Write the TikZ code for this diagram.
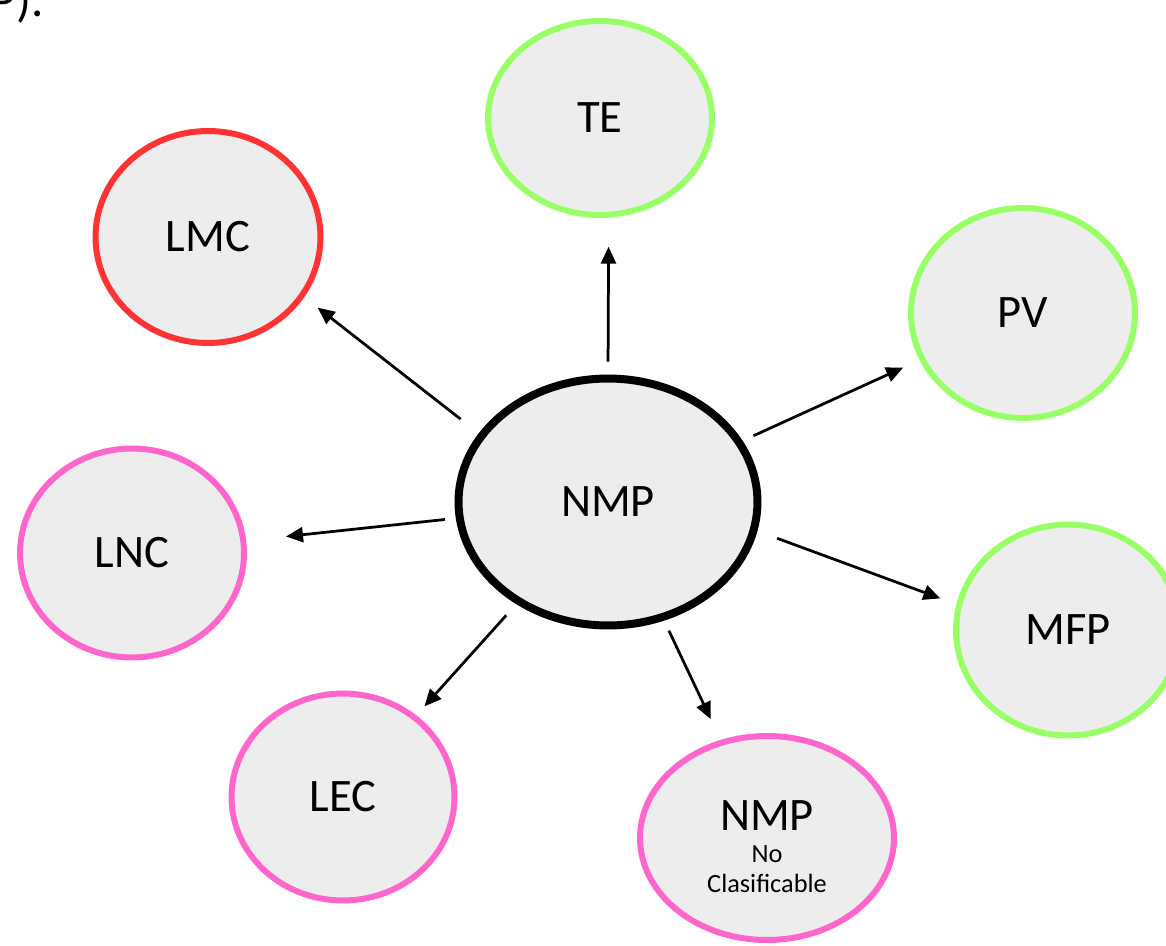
\documentclass[tikz,border=0pt]{standalone}
\usepackage{fontspec}
\setmainfont{Carlito}
\usetikzlibrary{shapes.geometric,arrows.meta}
\definecolor{bubblefill}{HTML}{EDEDED}
\definecolor{goodgreen}{HTML}{99FF66}
\definecolor{badred}{HTML}{FF3333}
\definecolor{otherpink}{HTML}{FF66CC}

\begin{document}
\begin{tikzpicture}[x=0.02cm,y=-0.02cm,
    bubble/.style={ellipse,fill=bubblefill,line width=0.12cm,inner sep=0pt,
      minimum width=4.48cm,minimum height=4.18cm,font=\fontsize{26.5}{30}\selectfont},
    arr/.style={line width=0.055cm,-{Triangle[length=0.34cm,width=0.3cm]}}]
        \useasboundingbox (0,0) rectangle (1166,946);
        \clip (0,0) rectangle (1166,946);
        \node[anchor=base east,inner sep=0pt,font=\fontsize{28}{30}\selectfont] (cut) at (44,17) {P).};
        % centre
        \node[bubble,draw=black,line width=0.16cm,minimum width=5.98cm,minimum height=4.94cm] (nmp) at (608,502) {NMP};
        % green ones
        \node[bubble,draw=goodgreen,minimum height=3.88cm] (te) at (600,118) {TE};
        \node[bubble,draw=goodgreen,minimum height=4.2cm] (pv) at (1023,313) {PV};
        \node[bubble,draw=goodgreen,minimum height=4.22cm] (mfp) at (1068,630) {MFP};
        % red / pink ones
        \node[bubble,draw=badred,minimum width=4.5cm,minimum height=4.24cm] (lmc) at (208,237) {LMC};
        \node[bubble,draw=otherpink] (lnc) at (132,553) {LNC};
        \node[bubble,draw=otherpink,minimum width=4.46cm,minimum height=4.14cm] (lec) at (343,797) {LEC};
        \node[bubble,draw=otherpink,minimum width=5.08cm,minimum height=4.08cm,align=center,
          font=\fontsize{15}{17}\selectfont] (nmpnc) at (767,838)
          {\rule{0pt}{0.95cm}{\fontsize{26.5}{30}\selectfont NMP}\\[1pt]No\\Clasificable};
        \draw[arr,shorten <=0.26cm,shorten >=0.58cm] (nmp.90) -- (te.-85.4);
        \draw[arr,shorten <=0.46cm,shorten >=0.34cm] (nmp.152.8) -- (lmc.-32.3);
        \draw[arr,shorten <=0.24cm,shorten >=0.36cm] (nmp) -- (pv);
        \draw[arr,shorten <=0.22cm,shorten >=0.8cm] (nmp) -- (lnc);
        \draw[arr,shorten <=0.42cm,shorten >=0.34cm] (nmp.-11.8) -- (mfp.167.3);
        \draw[arr,shorten <=0.3cm,shorten >=0.24cm] (nmp) -- (lec);
        \draw[arr,shorten <=0.22cm,shorten >=0.46cm] (nmp) -- (nmpnc);
      \end{tikzpicture}
\end{document}
